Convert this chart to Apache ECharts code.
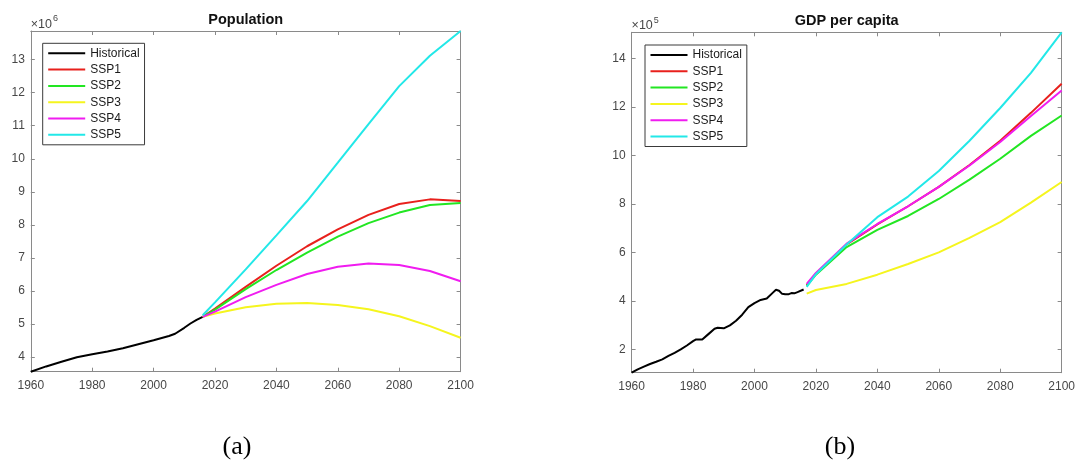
<!DOCTYPE html>
<html><head><meta charset="utf-8">
<script src="https://cdn.jsdelivr.net/npm/echarts@6/dist/echarts.min.js"></script>
<style>html,body{margin:0;padding:0;background:#fff;}#c{width:1078px;height:469px;}</style>
</head><body><div id="c"></div>
<script>
// ---------- data ----------
const seriesNames = ['Historical', 'SSP1', 'SSP2', 'SSP3', 'SSP4', 'SSP5'];
const seriesColors = ['#000000', '#e8201c', '#22e622', '#f5f51e', '#f01cf0', '#22e8e8'];

// Population (x10^6)
const popHistYears = [1960, 1965, 1970, 1975, 1980, 1985, 1990, 1995, 2000, 2005, 2007, 2010, 2012, 2014, 2016];
const popHist = [3.55, 3.71, 3.85, 3.99, 4.08, 4.16, 4.26, 4.38, 4.50, 4.63, 4.70, 4.88, 5.01, 5.12, 5.21];
const popSspYears = [2016, 2020, 2030, 2040, 2050, 2060, 2070, 2080, 2090, 2100];
const popSSP1 = [5.21, 5.46, 6.12, 6.76, 7.35, 7.86, 8.30, 8.63, 8.77, 8.72];
const popSSP2 = [5.21, 5.43, 6.05, 6.63, 7.16, 7.64, 8.05, 8.37, 8.60, 8.66];
const popSSP3 = [5.21, 5.31, 5.50, 5.61, 5.63, 5.57, 5.44, 5.23, 4.93, 4.58];
const popSSP4 = [5.21, 5.37, 5.81, 6.18, 6.51, 6.73, 6.83, 6.78, 6.60, 6.29];
const popSSP5 = [5.26, 5.65, 6.65, 7.68, 8.72, 9.88, 11.05, 12.20, 13.12, 13.87];

// GDP per capita (x10^5)
const gdpHistYears = [1960, 1962, 1964, 1966, 1968, 1970, 1972, 1974, 1976, 1978, 1980, 1981, 1983, 1985, 1987, 1988, 1990, 1992, 1994, 1996, 1998, 2000, 2002, 2004, 2006, 2007, 2008, 2009, 2010, 2011, 2012, 2013, 2014, 2016];
const gdpHist = [1.04, 1.18, 1.29, 1.40, 1.49, 1.59, 1.73, 1.86, 2.00, 2.16, 2.34, 2.41, 2.41, 2.63, 2.85, 2.89, 2.87, 2.99, 3.18, 3.43, 3.74, 3.91, 4.04, 4.10, 4.34, 4.46, 4.42, 4.29, 4.27, 4.27, 4.32, 4.31, 4.36, 4.47];
const gdpSspYears = [2017, 2020, 2030, 2040, 2050, 2060, 2070, 2080, 2090, 2100];
const gdpSSP1 = [4.65, 5.12, 6.33, 7.15, 7.90, 8.70, 9.60, 10.60, 11.75, 12.95];
const gdpSSP2 = [4.62, 5.08, 6.22, 6.93, 7.50, 8.20, 9.00, 9.86, 10.80, 11.64];
const gdpSSP3 = [4.30, 4.45, 4.70, 5.08, 5.52, 6.00, 6.60, 7.25, 8.05, 8.90];
const gdpSSP4 = [4.70, 5.15, 6.36, 7.17, 7.90, 8.70, 9.58, 10.55, 11.62, 12.67];
const gdpSSP5 = [4.58, 5.10, 6.32, 7.45, 8.30, 9.35, 10.60, 11.95, 13.40, 15.07];

const titles = ['Population', 'GDP per capita'];
const exponents = ['6', '5'];
const captions = ['(a)', '(b)'];

// ---------- chart ----------
const AX = '#8a8a8a', TX = '#474747', FONT = '"Liberation Sans", Arial, sans-serif';
const grids = [
  {left: 30.8, top: 31, width: 429.8, height: 340.7},
  {left: 631.6, top: 32.3, width: 431.4, height: 340.4}
];

function makeX(g, pos) {
  return {
    type: 'value', gridIndex: g, position: pos, min: 1960, max: 2100, interval: 20,
    axisLine: {show: true, onZero: false, lineStyle: {color: AX, width: 1}},
    axisTick: {show: true, inside: true, length: 4, lineStyle: {color: AX}},
    axisLabel: {show: pos === 'bottom', margin: 8, color: TX, fontSize: 12, fontFamily: FONT, formatter: v => String(v)},
    splitLine: {show: false},
    name: pos === 'top' ? titles[g] : '', nameLocation: 'middle', nameGap: 4,
    nameTextStyle: {fontWeight: 'bold', fontSize: 14.5, color: '#111', fontFamily: FONT}
  };
}
function makeY(g, pos, min, max, step) {
  return {
    type: 'value', gridIndex: g, position: pos, min: min, max: max, minInterval: step, maxInterval: step,
    axisLine: {show: true, onZero: false, lineStyle: {color: AX, width: 1}},
    axisTick: {show: true, inside: true, length: 4, lineStyle: {color: AX}},
    axisLabel: {show: pos === 'left', margin: 6, color: TX, fontSize: 12, fontFamily: FONT, showMinLabel: false, showMaxLabel: false},
    splitLine: {show: false},
    name: pos === 'left' ? '{a|×10}{b|' + exponents[g] + '}' : '', nameLocation: 'end', nameGap: 0,
    nameTextStyle: {align: 'left', verticalAlign: 'bottom', color: TX, fontFamily: FONT,
      rich: {a: {fontSize: 12.5, lineHeight: 14, color: TX, fontFamily: FONT, verticalAlign: 'bottom'},
             b: {fontSize: 9, lineHeight: 10, color: TX, fontFamily: FONT, verticalAlign: 'bottom', padding: [0, 0, 7.5, 1]}}}
  };
}
function pairs(xs, ys) { return xs.map((x, i) => [x, ys[i]]); }
function line(i, g, xs, ys) {
  return {type: 'line', name: seriesNames[i], xAxisIndex: g * 2, yAxisIndex: g * 2, data: pairs(xs, ys),
    symbol: 'none', clip: false, lineStyle: {color: seriesColors[i], width: 2}, itemStyle: {color: seriesColors[i]}};
}

const popAll = [popHist, popSSP1, popSSP2, popSSP3, popSSP4, popSSP5].flat();
const gdpAll = [gdpHist, gdpSSP1, gdpSSP2, gdpSSP3, gdpSSP4, gdpSSP5].flat();
const popMin = Math.min(...popAll), popMax = Math.max(...popAll);
const gdpMin = Math.min(...gdpAll), gdpMax = Math.max(...gdpAll);

const popSsp = [popSSP1, popSSP2, popSSP3, popSSP4, popSSP5];
const gdpSsp = [gdpSSP1, gdpSSP2, gdpSSP3, gdpSSP4, gdpSSP5];
const series = [line(0, 0, popHistYears, popHist)];
popSsp.forEach((d, k) => series.push(line(k + 1, 0, popSspYears, d)));
series.push(line(0, 1, gdpHistYears, gdpHist));
gdpSsp.forEach((d, k) => series.push(line(k + 1, 1, gdpSspYears, d)));

const legendBase = {
  orient: 'vertical', data: seriesNames, icon: 'path://M0,0H37V2H0Z', itemWidth: 37, itemHeight: 12, itemGap: 4.3,
  padding: [4, 5, 4, 5.5], borderColor: '#3a3a3a', borderWidth: 1, backgroundColor: '#fff',
  textStyle: {color: '#1a1a1a', fontSize: 12, fontFamily: FONT}, selectedMode: false
};

const chart = echarts.init(document.getElementById('c'), null, {renderer: 'canvas'});
chart.setOption({
  animation: false,
  backgroundColor: '#fff',
  grid: grids,
  xAxis: [makeX(0, 'bottom'), makeX(0, 'top'), makeX(1, 'bottom'), makeX(1, 'top')],
  yAxis: [makeY(0, 'left', popMin, popMax, 1), makeY(0, 'right', popMin, popMax, 1),
          makeY(1, 'left', gdpMin, gdpMax, 2), makeY(1, 'right', gdpMin, gdpMax, 2)],
  legend: [Object.assign({left: 42.7, top: 43.3}, legendBase), Object.assign({left: 645, top: 45}, legendBase)],
  series: series,
  graphic: [
    {type: 'text', x: 237, y: 447, style: {text: captions[0], fontSize: 26, fontFamily: '"Liberation Serif", "Times New Roman", serif', fill: '#000', align: 'center', verticalAlign: 'middle'}},
    {type: 'text', x: 840, y: 447, style: {text: captions[1], fontSize: 26, fontFamily: '"Liberation Serif", "Times New Roman", serif', fill: '#000', align: 'center', verticalAlign: 'middle'}}
  ]
});
</script></body></html>
